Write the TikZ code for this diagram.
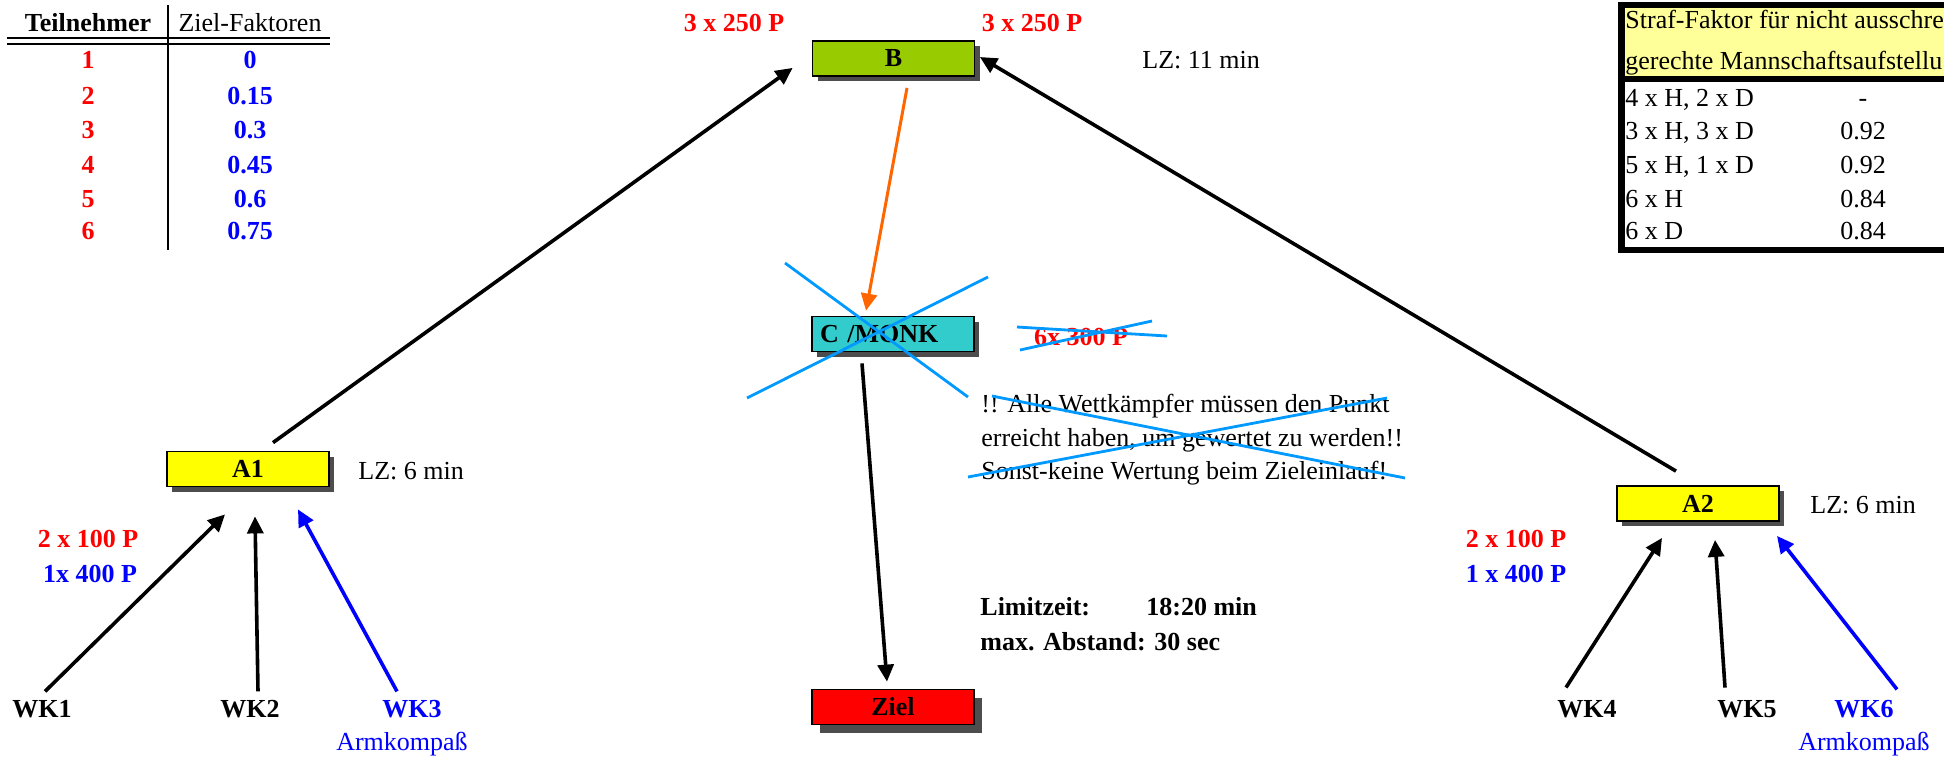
\documentclass[tikz,border=0pt]{standalone}
\usepackage{fontspec}
\setmainfont{Liberation Serif}
\usetikzlibrary{arrows.meta,shadows}

\definecolor{gruen}{RGB}{153,204,0}
\definecolor{tuerkis}{RGB}{51,204,204}
\definecolor{gelb}{RGB}{255,255,0}
\definecolor{hellgelb}{RGB}{255,255,153}
\definecolor{rot}{RGB}{255,0,0}
\definecolor{blau}{RGB}{0,0,255}
\definecolor{orangepfeil}{RGB}{255,102,0}
\definecolor{streich}{RGB}{0,153,255}
\definecolor{schatten}{RGB}{77,77,77}

\tikzset{
	posten/.style={draw=black, line width=0.9pt, minimum width=81pt, minimum height=17.5pt, inner sep=0pt, font=\bfseries,
		drop shadow={shadow xshift=#1, shadow yshift=-#1, fill=schatten, opacity=1}},
	posten/.default=2.5pt,
	pfeil/.style={line width=1.8pt, -{Triangle[length=8.5pt,width=8pt]}},
	streichung/.style={draw=streich, line width=1.4pt},
	punkte/.style={font=\bfseries, anchor=base, inner sep=0pt},
	mitte/.style={anchor=base, inner sep=0pt},
	txt/.style={anchor=base west, inner sep=0pt}
}

\begin{document}
\fontsize{13}{16.75}\selectfont
\begin{tikzpicture}[x=0.5pt,y=-0.5pt]
	%\draw[help lines] (0,0) grid[step=100] (1944,757);
	\useasboundingbox (0,0) rectangle (1944,757);

	% Tabelle Ziel-Faktoren
	\node[punkte] (kopfTn) at (88,31) {Teilnehmer};
	\node[mitte] (kopfZf) at (250,31) {Ziel-Faktoren};
	\draw[line width=1.4pt] (168,5) -- (168,250);
	\draw[line width=1pt] (7,37.5) -- (330,37.5) (7,43.5) -- (330,43.5);
	\node[punkte, text=rot] (tn1) at (88,68) {1};
	\node[punkte, text=blau] (zf1) at (250,68) {0};
	\node[punkte, text=rot] (tn2) at (88,104) {2};
	\node[punkte, text=blau] (zf2) at (250,104) {0.15};
	\node[punkte, text=rot] (tn3) at (88,138) {3};
	\node[punkte, text=blau] (zf3) at (250,138) {0.3};
	\node[punkte, text=rot] (tn4) at (88,173) {4};
	\node[punkte, text=blau] (zf4) at (250,173) {0.45};
	\node[punkte, text=rot] (tn5) at (88,207) {5};
	\node[punkte, text=blau] (zf5) at (250,207) {0.6};
	\node[punkte, text=rot] (tn6) at (88,239) {6};
	\node[punkte, text=blau] (zf6) at (250,239) {0.75};

	% Tabelle Straf-Faktor
	\fill[hellgelb] (1621.5,5) rectangle (1944,79);
	\draw[line width=3.2pt] (1944,5) -- (1621.5,5) -- (1621.5,250) -- (1944,250);
	\draw[line width=3pt] (1621.5,79) -- (1944,79);
	\node[txt] (sf1) at (1625,28) {Straf-Faktor für nicht ausschre};
	\node[txt] (sf2) at (1625,69) {gerechte Mannschaftsaufstellu};
	\node[txt] (mA) at (1625,106) {4 x H, 2 x D};
	\node[mitte] (fA) at (1863,106) {-};
	\node[txt] (mB) at (1625,139) {3 x H, 3 x D};
	\node[mitte] (fB) at (1863,139) {0.92};
	\node[txt] (mC) at (1625,173) {5 x H, 1 x D};
	\node[mitte] (fC) at (1863,173) {0.92};
	\node[txt] (mD) at (1625,207) {6 x H};
	\node[mitte] (fD) at (1863,207) {0.84};
	\node[txt] (mE) at (1625,239) {6 x D};
	\node[mitte] (fE) at (1863,239) {0.84};

	% Posten
	\node[posten, fill=gruen] (nB) at (893.5,58.5) {B};
	\node[posten, fill=tuerkis, text width=73pt, inner xsep=4pt, align=left] (nC) at (893,334) {C /MONK};
	\node[posten=4pt, fill=rot] (nZiel) at (893,707) {Ziel};
	\node[posten, fill=gelb] (nA1) at (248,469) {A1};
	\node[posten, fill=gelb] (nA2) at (1698,503.5) {A2};

	\node[punkte, text=rot] (pB1) at (734,31) {3 x 250 P};
	\node[punkte, text=rot] (pB2) at (1032,31) {3 x 250 P};
	\node[txt] (lzB) at (1142,68) {LZ: 11 min};
	\node[txt] (lzA1) at (358,479) {LZ: 6 min};
	\node[txt] (lzA2) at (1810,513) {LZ: 6 min};
	\node[punkte, text=rot] (pA1a) at (88,547) {2 x 100 P};
	\node[punkte, text=blau] (pA1b) at (90,582) {1x 400 P};
	\node[punkte, text=rot] (pA2a) at (1516,547) {2 x 100 P};
	\node[punkte, text=blau] (pA2b) at (1516,582) {1 x 400 P};
	\node[punkte, text=rot] (pC) at (1081,345) {6x 300 P};

	% Wettkaempfer
	\node[punkte] (wk1) at (42,717) {WK1};
	\node[punkte] (wk2) at (250,717) {WK2};
	\node[punkte, text=blau] (wk3) at (412,717) {WK3};
	\node[mitte, text=blau] (ak3) at (402,750) {Armkompaß};
	\node[punkte] (wk4) at (1587,717) {WK4};
	\node[punkte] (wk5) at (1747,717) {WK5};
	\node[punkte, text=blau] (wk6) at (1864,717) {WK6};
	\node[mitte, text=blau] (ak6) at (1864,750) {Armkompaß};

	\node[anchor=north west, inner sep=0pt, align=left] (hinweis) at (981,394) {!! Alle Wettkämpfer müssen den Punkt\\erreicht haben, um gewertet zu werden!!\\Sonst-keine Wertung beim Zieleinlauf!};
	\node[txt, font=\bfseries] (lim1) at (980,615) {Limitzeit:};
	\node[txt, font=\bfseries] (lim2) at (1146,615) {18:20 min};
	\node[txt, font=\bfseries] (lim3) at (980,650) {max. Abstand: 30 sec};

	% Pfeile
	\draw[pfeil] ([shift={(25,-8)}]nA1.north) -- ([shift={(-19,-9)}]nB.south west);
	\draw[pfeil] ([shift={(-22,-14)}]nA2.north) -- ([shift={(4.5,-1.5)}]nB.east);
	\draw[pfeil, orangepfeil, line width=1.5pt] ([shift={(13.5,11)}]nB.south) -- ([shift={(-27,-5)}]nC.north);
	\draw[pfeil] ([shift={(-31,11)}]nC.south) -- ([shift={(-6,-7)}]nZiel.north);
	\draw[pfeil] ([shift={(3,-8)}]wk1.north) -- ([shift={(-23,27)}]nA1.south);
	\draw[pfeil] ([shift={(8,-8)}]wk2.north) -- ([shift={(7,29)}]nA1.south);
	\draw[pfeil, blau] ([shift={(-15,-8)}]wk3.north) -- ([shift={(50,22)}]nA1.south);
	\draw[pfeil] ([shift={(-21,-12)}]wk4.north) -- ([shift={(-36,16)}]nA2.south);
	\draw[pfeil] ([shift={(-22,-12)}]wk5.north) -- ([shift={(17,18)}]nA2.south);
	\draw[pfeil, blau] ([shift={(33,-10)}]wk6.north) -- ([shift={(79,14)}]nA2.south);

	% gestrichen
	\draw[streichung] (785,263) -- (968,397) (988,277) -- (747,398);
	\draw[streichung] (1017,327) -- (1167,336) (1020,350) -- (1152,321);
	\draw[streichung] (992,396) -- (1405,478) (968,477) -- (1387,398);
\end{tikzpicture}
\end{document}
